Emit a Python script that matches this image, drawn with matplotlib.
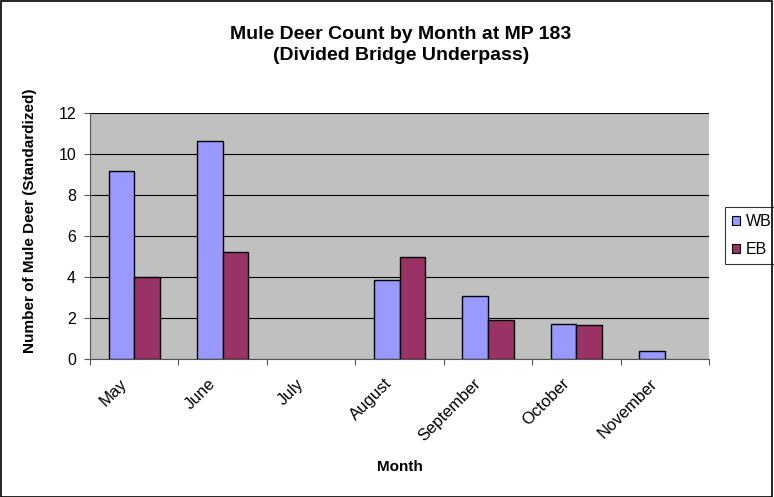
import matplotlib
matplotlib.use("Agg")
import matplotlib.pyplot as plt
import matplotlib.transforms as mtransforms
import numpy as np

plt.rcParams['font.family'] = ['Liberation Sans', 'DejaVu Sans']

months = ["May", "June", "July", "August", "September", "October", "November"]
wb = [9.15, 10.65, 0, 3.85, 3.05, 1.7, 0.4]
eb = [4.0, 5.2, 0, 5.0, 1.9, 1.65, 0]
series_names = ["WB", "EB"]
y_ticks = [0, 2, 4, 6, 8, 10, 12]

W, H = 774, 497
fig = plt.figure(figsize=(W / 100, H / 100), dpi=100)
ax = fig.add_axes([90 / W, 1 - 359 / H, 619 / W, 246 / H])
ax.set_facecolor("#c0c0c0")

x = np.arange(len(months))
w = 0.29


def draw_series(values, offset, color, label):
    vals = np.asarray(values, dtype=float)
    keep = vals > 0  # months without counts get no bar
    ax.bar(x[keep] + offset, vals[keep], w, color=color, edgecolor="black",
           linewidth=1.0, label=label, zorder=3)


draw_series(wb, -w / 2, "#9999ff", series_names[0])
draw_series(eb, w / 2, "#993366", series_names[1])

ax.set_xlim(-0.5, len(months) - 0.5)
ax.set_ylim(0, 12)
ax.set_yticks(y_ticks)
ax.yaxis.grid(True, color="black", linewidth=0.8, zorder=1)
ax.set_axisbelow(True)

ax.set_xticks(np.arange(len(months) + 1) - 0.5, minor=False)
ax.set_xticklabels([])
ax.set_xticks(x, minor=True)
ax.set_xticklabels(months, minor=True, rotation=45, ha="right", va="center",
                   rotation_mode="anchor", fontsize=12)
ax.tick_params(axis="x", which="minor", length=0, pad=12)
ax.tick_params(axis="x", which="major", length=4, color="#555555", direction="out")
ax.tick_params(axis="y", length=4, labelsize=11.5, color="#555555", pad=6)

# nudge the slanted month names down-left so they sit under their bars
shift = mtransforms.ScaledTranslation(-7 / 72, -4 / 72, fig.dpi_scale_trans)
for lbl in ax.get_xticklabels(minor=True):
    lbl.set_transform(lbl.get_transform() + shift)

for side in ["top", "right"]:
    ax.spines[side].set_visible(False)
ax.spines["left"].set_color("#555555")
ax.spines["bottom"].set_color("#555555")

fig.text(30.5 / W, 1 - 221 / H, "Number of Mule Deer (Standardized)", rotation=90,
         ha="center", va="center", fontsize=11, fontweight="bold")
fig.text(400 / W, 1 - 467 / H, "Month", ha="center", va="center",
         fontsize=11, fontweight="bold")
fig.text(401 / W, 1 - 45 / H, "Mule Deer Count by Month at MP 183\n(Divided Bridge Underpass)",
         ha="center", va="center", fontsize=14, fontweight="bold", linespacing=1.25)

leg = ax.legend(loc="upper left", bbox_to_anchor=(725 / W, 1 - 207 / H),
                bbox_transform=fig.transFigure, frameon=True,
                fancybox=False, edgecolor="black", fontsize=11.5,
                handlelength=0.5, handleheight=0.5, handletextpad=0.35,
                borderpad=0.45, borderaxespad=0, labelspacing=0.8)
leg.get_frame().set_linewidth(0.8)
for h in leg.legend_handles:
    h.set_linewidth(0.8)

fig.patches.append(plt.Rectangle((0.001, 0.001), 0.997, 0.997, transform=fig.transFigure,
                                 fill=False, edgecolor="black", linewidth=1.2))

fig.savefig("out.png", dpi=100)
